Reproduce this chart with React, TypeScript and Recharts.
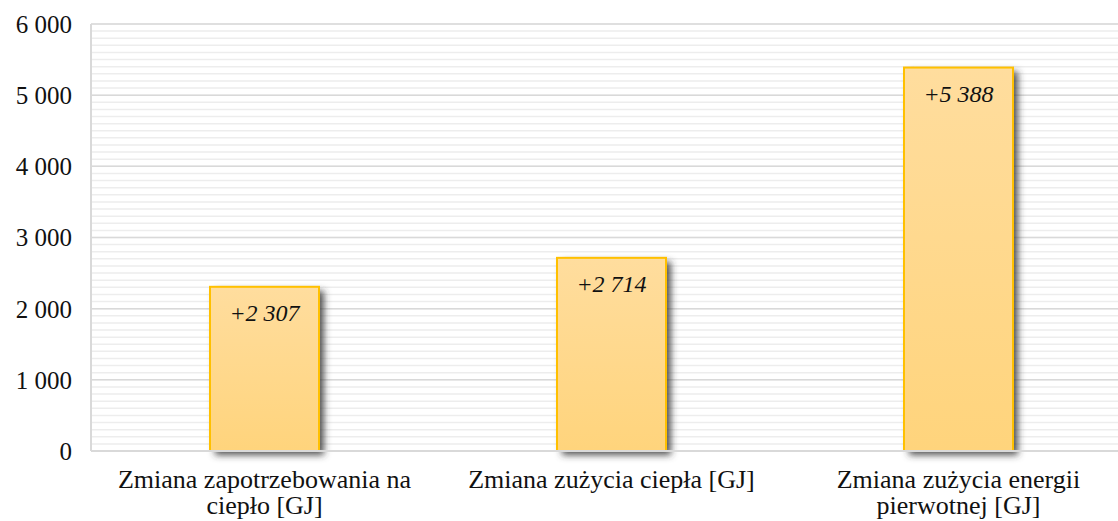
import React from 'react';
import { BarChart, Bar, XAxis, YAxis, CartesianGrid, LabelList } from 'recharts';

const categories = [
  'Zmiana zapotrzebowania na ciepło [GJ]',
  'Zmiana zużycia ciepła [GJ]',
  'Zmiana zużycia energii pierwotnej [GJ]',
];
const categoryLines = [
  ['Zmiana zapotrzebowania na', 'ciepło [GJ]'],
  ['Zmiana zużycia ciepła [GJ]'],
  ['Zmiana zużycia energii', 'pierwotnej [GJ]'],
];
const values = [2307, 2714, 5388];
const valueLabels = ['+2 307', '+2 714', '+5 388'];
const yTicks = [0, 1000, 2000, 3000, 4000, 5000, 6000];
const minorTicks = Array.from({ length: 61 }, (_, i) => i * 100);

const data = categories.map((name, i) => ({ name, value: values[i], label: valueLabels[i] }));

const FONT = '"Liberation Serif", serif';

const fmt = (v: number) => String(v).replace(/\B(?=(\d{3})+(?!\d))/g, ' ');

const XTick = (props: any) => {
  const { x, y, payload } = props;
  const idx = categories.indexOf(payload.value);
  const lines = idx >= 0 ? categoryLines[idx] : [String(payload.value)];
  return (
    <text x={x} y={y} textAnchor="middle" fontFamily={FONT} fontSize={26} fill="#111">
      {lines.map((l, i) => (
        <tspan key={i} x={x} dy={i === 0 ? 29 : 26}>{l}</tspan>
      ))}
    </text>
  );
};

const BarShape = (props: any) => {
  const { x, y, width, height } = props;
  return (
    <g>
      <rect x={x} y={y} width={width} height={height} fill="url(#barGrad)" filter="url(#barShadow)" />
      <rect x={x} y={y} width={width} height={height} fill="url(#barGrad)" stroke="#FFC000" strokeWidth={2} />
    </g>
  );
};

export default function App() {
  return (
    <div style={{ position: 'absolute', left: 0, top: 0, width: 1118, height: 521, overflow: 'hidden' }}>
      <BarChart
        width={1132}
        height={521}
        data={data}
        margin={{ top: 24, right: 0, left: 0, bottom: 0 }}
        barSize={109}
      >
        <defs>
          <linearGradient id="barGrad" x1="0" y1="0" x2="0" y2="1">
            <stop offset="0%" stopColor="#FFDD9E" />
            <stop offset="100%" stopColor="#FFD47C" />
          </linearGradient>
          <filter id="barShadow" x="-20%" y="-10%" width="150%" height="130%">
            <feDropShadow dx={5} dy={4} stdDeviation={3.5} floodColor="#333333" floodOpacity={0.85} />
          </filter>
        </defs>
        <CartesianGrid
          vertical={false}
          horizontalValues={minorTicks}
          stroke="#EDEDED"
          strokeWidth={1.5}
        />
        <CartesianGrid
          vertical={false}
          horizontalValues={yTicks}
          stroke="#D9D9D9"
          strokeWidth={1.5}
        />
        <XAxis
          dataKey="name"
          tick={<XTick />}
          tickLine={false}
          axisLine={{ stroke: '#D9D9D9', strokeWidth: 2 }}
          interval={0}
          height={70}
        />
        <YAxis
          domain={[0, 6000]}
          ticks={yTicks}
          tickFormatter={fmt}
          tickLine={false}
          tickSize={0}
          tickMargin={19}
          axisLine={{ stroke: '#D9D9D9', strokeWidth: 2 }}
          width={91}
          tick={{ fontFamily: FONT, fontSize: 25, fill: '#111' }}
          interval={0}
        />
        <Bar dataKey="value" shape={<BarShape />} isAnimationActive={false}>
          <LabelList
            dataKey="label"
            position="insideTop"
            offset={17}
            style={{ fontFamily: FONT, fontSize: 24, fontStyle: 'italic', fill: '#111' }}
          />
        </Bar>
      </BarChart>
    </div>
  );
}
